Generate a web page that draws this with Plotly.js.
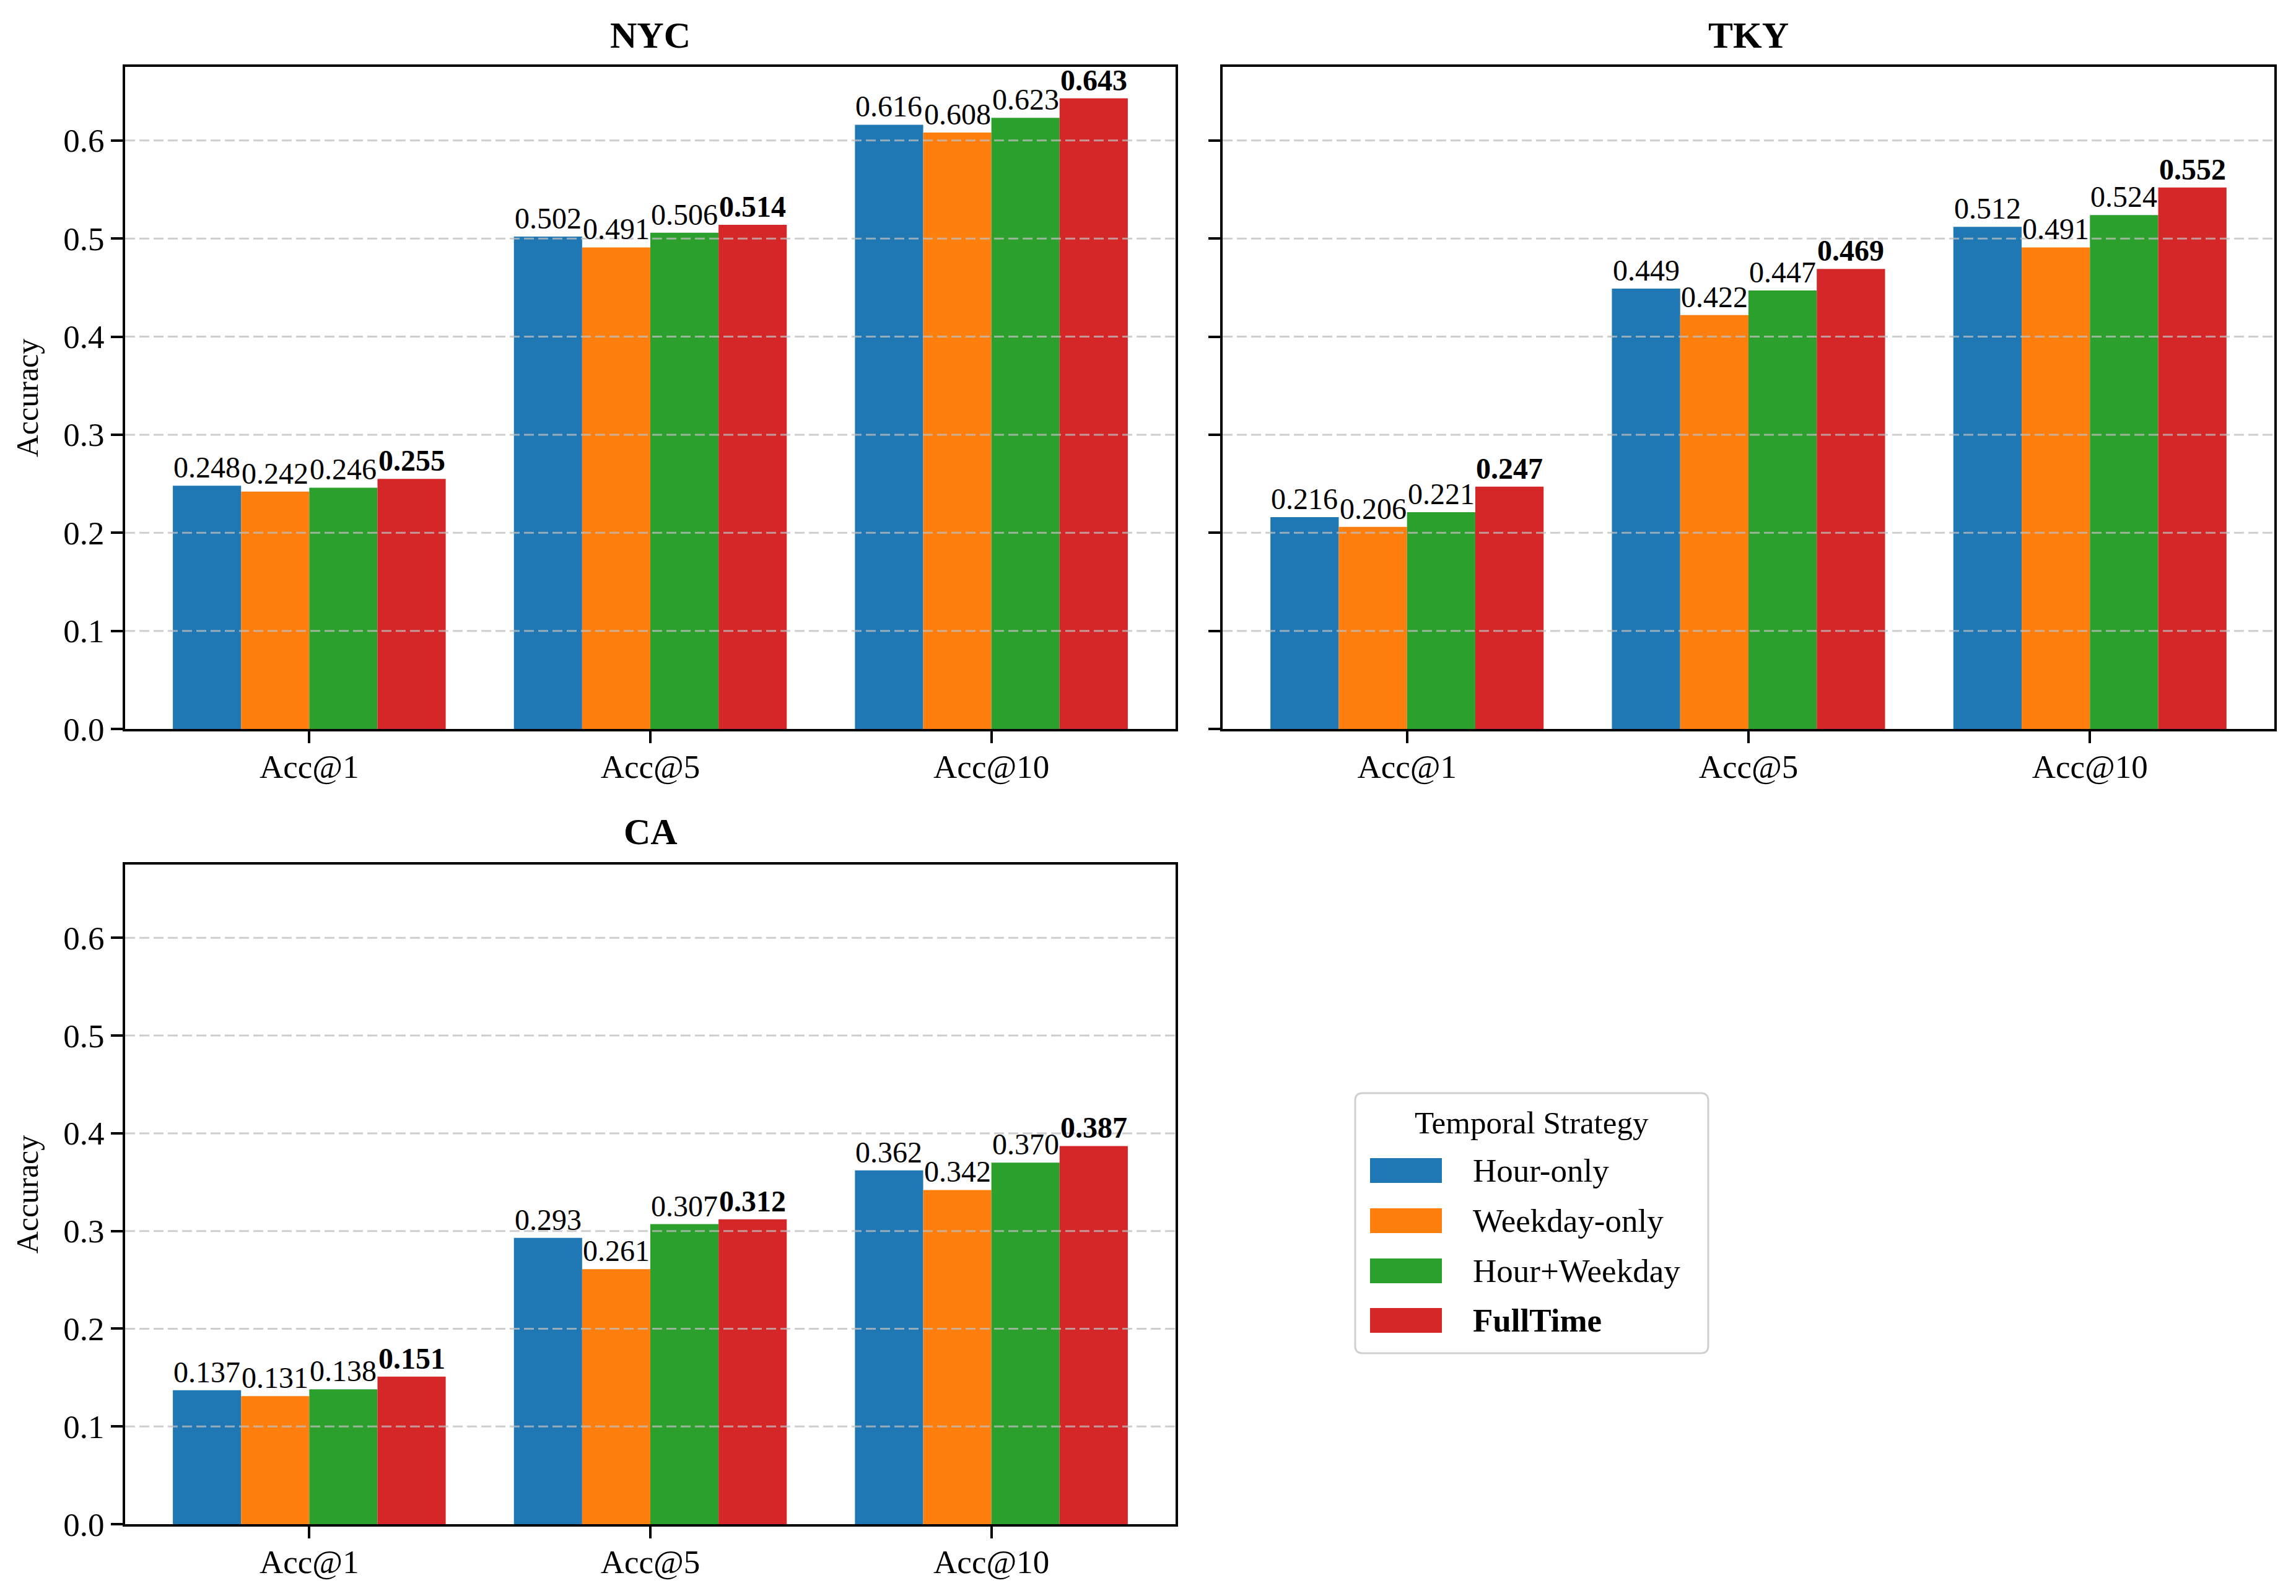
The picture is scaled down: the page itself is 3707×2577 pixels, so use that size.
<!DOCTYPE html>
<html>
<head>
<meta charset="utf-8">
<script src="https://cdn.plot.ly/plotly-3.0.1.min.js"></script>
<style>html,body{margin:0;padding:0;background:#fff;}#chart{width:3707px;height:2577px;}</style>
</head>
<body>
<div id="chart"></div>
<script>
// ---- data ----
const categories = ['Acc@1', 'Acc@5', 'Acc@10'];
const strategies = ['Hour-only', 'Weekday-only', 'Hour+Weekday', 'FullTime'];
const datasets = ['NYC', 'TKY', 'CA'];

const nycHourOnly    = [0.248, 0.502, 0.616];
const nycWeekdayOnly = [0.242, 0.491, 0.608];
const nycHourWeekday = [0.246, 0.506, 0.623];
const nycFullTime    = [0.255, 0.514, 0.643];

const tkyHourOnly    = [0.216, 0.449, 0.512];
const tkyWeekdayOnly = [0.206, 0.422, 0.491];
const tkyHourWeekday = [0.221, 0.447, 0.524];
const tkyFullTime    = [0.247, 0.469, 0.552];

const caHourOnly    = [0.137, 0.293, 0.362];
const caWeekdayOnly = [0.131, 0.261, 0.342];
const caHourWeekday = [0.138, 0.307, 0.370];
const caFullTime    = [0.151, 0.312, 0.387];

const yTicks = [0.0, 0.1, 0.2, 0.3, 0.4, 0.5, 0.6];
const legendTitle = 'Temporal Strategy';
const yLabel = 'Accuracy';

// ---- styles ----
const colors = ['#1f77b4', '#ff7f0e', '#2ca02c', '#d62728'];
const FONT = 'Liberation Serif';
const W = 3707, H = 2577;

const seriesByDataset = [
  [nycHourOnly, nycWeekdayOnly, nycHourWeekday, nycFullTime],
  [tkyHourOnly, tkyWeekdayOnly, tkyHourWeekday, tkyFullTime],
  [caHourOnly, caWeekdayOnly, caHourWeekday, caFullTime]
];

const panels = [
  {x: [202 / W, 1898 / W], y: [1 - 1177 / H, 1 - 108 / H], titleY: 1 - 57 / H, ylabels: true},
  {x: [1974 / W, 3672 / W], y: [1 - 1177 / H, 1 - 108 / H], titleY: 1 - 57 / H, ylabels: false},
  {x: [202 / W, 1898 / W], y: [1 - 2461 / H, 1 - 1396 / H], titleY: 1 - 1343 / H, ylabels: true}
];

const traces = [];
const annotations = [];
const shapes = [];
const layout = {
  width: W, height: H,
  margin: {l: 0, r: 0, t: 0, b: 0},
  paper_bgcolor: '#ffffff', plot_bgcolor: '#ffffff',
  font: {family: FONT, color: '#000000'},
  barmode: 'group', bargap: 0.2, bargroupgap: 0,
  showlegend: false,
  annotations: annotations, shapes: shapes
};

panels.forEach((p, pi) => {
  const xa = pi === 0 ? 'x' : 'x' + (pi + 1);
  const ya = pi === 0 ? 'y' : 'y' + (pi + 1);
  const xk = pi === 0 ? 'xaxis' : 'xaxis' + (pi + 1);
  const yk = pi === 0 ? 'yaxis' : 'yaxis' + (pi + 1);
  const series = seriesByDataset[pi];

  series.forEach((vals, si) => {
    traces.push({
      type: 'bar', x: categories, y: vals, name: strategies[si],
      xaxis: xa, yaxis: ya, offsetgroup: String(si),
      marker: {color: colors[si], line: {width: 0}},
      hoverinfo: 'skip'
    });
    vals.forEach((v, ci) => {
      const bold = si === series.length - 1;
      annotations.push({
        xref: xa, yref: ya, x: ci + (si - (series.length - 1) / 2) * 0.2, y: v,
        text: bold ? '<b>' + v.toFixed(3) + '</b>' : v.toFixed(3),
        showarrow: false, xanchor: 'center', yanchor: 'bottom', yshift: 1,
        font: {family: FONT, size: 48, color: '#000000'}
      });
    });
  });

  layout[xk] = {
    domain: p.x, anchor: ya, type: 'category',
    range: [-0.54, 2.54], tickvals: categories, ticktext: categories,
    showline: true, linecolor: '#000000', linewidth: 4, mirror: true,
    ticks: 'outside', ticklen: 19, tickwidth: 4, tickcolor: '#000000',
    ticklabelstandoff: -8,
    showgrid: false, zeroline: false,
    tickfont: {family: FONT, size: 53, color: '#000000'}
  };
  layout[yk] = {
    domain: p.y, anchor: xa,
    range: [0, 0.675], tickvals: yTicks, tickformat: '.1f',
    showticklabels: p.ylabels,
    showline: true, linecolor: '#000000', linewidth: 4, mirror: true,
    ticks: 'outside', ticklen: 19, tickwidth: 4, tickcolor: '#000000',
    showgrid: false, zeroline: false,
    tickfont: {family: FONT, size: 53, color: '#000000'},
    title: p.ylabels ? {text: yLabel, font: {family: FONT, size: 50, color: '#000000'}, standoff: 26} : {text: ''}
  };

  // dashed grid drawn above bars
  yTicks.slice(1).forEach(t => {
    shapes.push({
      type: 'line', layer: 'above', xref: xa + ' domain', yref: ya,
      x0: 0, x1: 1, y0: t, y1: t,
      line: {color: 'rgba(190,190,190,0.75)', width: 3, dash: '16px,7px'}
    });
  });

  annotations.push({
    xref: 'paper', yref: 'paper', x: (p.x[0] + p.x[1]) / 2, y: p.titleY,
    text: '<b>' + datasets[pi] + '</b>', showarrow: false,
    xanchor: 'center', yanchor: 'middle',
    font: {family: FONT, size: 60, color: '#000000'}
  });
});

// ---- legend (drawn as a boxed key) ----
const box = {x0: 2188, x1: 2758, y0: 1765, y1: 2185, r: 12};
const px = v => v / W, py = v => 1 - v / H;
const rx = box.r / W, ry = box.r / H;
const bx0 = px(box.x0), bx1 = px(box.x1), byT = py(box.y0), byB = py(box.y1);
shapes.push({
  type: 'path', xref: 'paper', yref: 'paper', layer: 'above',
  path: `M ${bx0 + rx},${byT} L ${bx1 - rx},${byT} Q ${bx1},${byT} ${bx1},${byT - ry} ` +
        `L ${bx1},${byB + ry} Q ${bx1},${byB} ${bx1 - rx},${byB} L ${bx0 + rx},${byB} ` +
        `Q ${bx0},${byB} ${bx0},${byB + ry} L ${bx0},${byT - ry} Q ${bx0},${byT} ${bx0 + rx},${byT} Z`,
  fillcolor: 'rgba(255,255,255,0.8)', line: {color: '#d0d0d0', width: 3}
});
annotations.push({
  xref: 'paper', yref: 'paper', x: px((box.x0 + box.x1) / 2), y: py(1813),
  text: legendTitle, showarrow: false, xanchor: 'center', yanchor: 'middle',
  font: {family: FONT, size: 51, color: '#000000'}
});
const rowY = [1890, 1971, 2052, 2132];
strategies.forEach((s, i) => {
  shapes.push({
    type: 'rect', xref: 'paper', yref: 'paper', layer: 'above',
    x0: px(2212), x1: px(2328), y0: py(rowY[i] - 20), y1: py(rowY[i] + 20),
    fillcolor: colors[i], line: {width: 0}
  });
  annotations.push({
    xref: 'paper', yref: 'paper', x: px(2376), y: py(rowY[i]),
    text: i === strategies.length - 1 ? '<b>' + s + '</b>' : s,
    showarrow: false, xanchor: 'left', yanchor: 'middle',
    font: {family: FONT, size: 53, color: '#000000'}
  });
});

Plotly.newPlot('chart', traces, layout, {displayModeBar: false, staticPlot: true});
</script>
</body>
</html>
